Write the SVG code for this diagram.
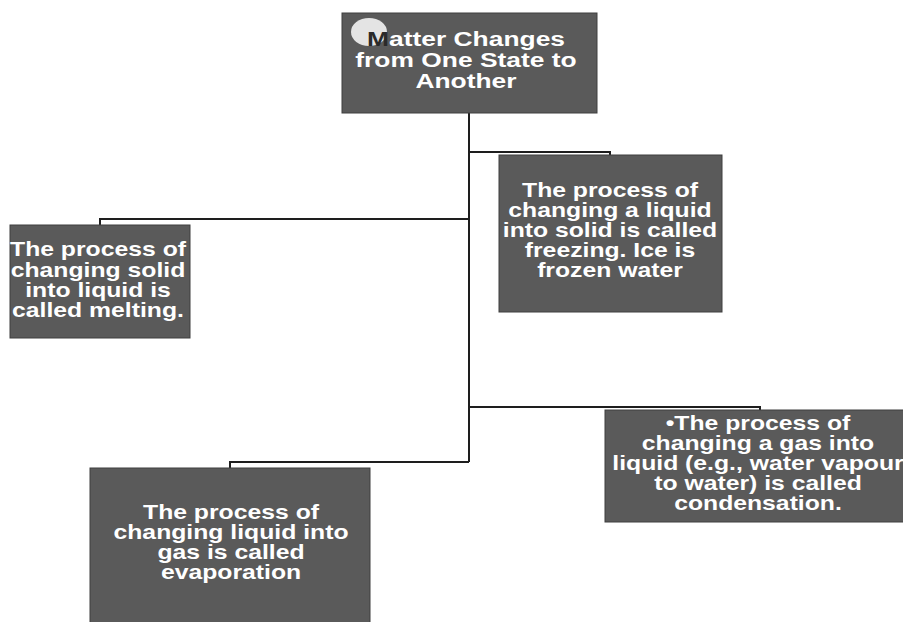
<svg xmlns="http://www.w3.org/2000/svg" width="903" height="622" viewBox="0 0 903 622">
<style>
.box{fill:#5a5a5a;stroke:#3e3e3e;stroke-width:1}
.lbl{font-family:"Liberation Sans",Arial,sans-serif;font-weight:bold;font-size:19.5px;fill:#ffffff;text-anchor:middle}
.ttl{font-size:20px}
.st{text-anchor:start}
.conn{fill:none;stroke:#1e1e1e;stroke-width:2}
</style>
<rect width="903" height="622" fill="#ffffff"/>
<g id="connectors">
<path class="conn" d="M469,113 V462"/>
<path class="conn" d="M469,152 H610 V155"/>
<path class="conn" d="M469,219 H100 V225"/>
<path class="conn" d="M469,407 H760 V410"/>
<path class="conn" d="M469,462 H230 V468"/>
</g>
<g id="title">
<rect class="box" x="342" y="13" width="255" height="100"/>
<ellipse cx="369" cy="32" rx="18" ry="14" fill="#e4e4e4"/>
<g transform="translate(466,0) scale(1.32,1)">
<text class="lbl ttl st" x="-75" y="46" fill="#2a2a2a" style="fill:#2a2a2a">M</text>
<text class="lbl ttl st" x="-58.3" y="46">atter Changes</text>
<text class="lbl ttl" x="0" y="67">from One State to</text>
<text class="lbl ttl" x="0" y="88">Another</text>
</g>
</g>
<g id="melting">
<rect class="box" x="10" y="225" width="180" height="113"/>
<g transform="translate(98,0) scale(1.27,1)">
<text class="lbl" x="0" y="256">The process of</text>
<text class="lbl" x="0" y="277">changing solid</text>
<text class="lbl" x="0" y="297">into liquid is</text>
<text class="lbl" x="0" y="317">called melting.</text>
</g>
</g>
<g id="freezing">
<rect class="box" x="499" y="155" width="223" height="157"/>
<g transform="translate(610,0) scale(1.27,1)">
<text class="lbl" x="0" y="197">The process of</text>
<text class="lbl" x="0" y="217">changing a liquid</text>
<text class="lbl" x="0" y="237">into solid is called</text>
<text class="lbl" x="0" y="257">freezing. Ice is</text>
<text class="lbl" x="0" y="277">frozen water</text>
</g>
</g>
<g id="condensation">
<rect class="box" x="605" y="410" width="310" height="112"/>
<g transform="translate(758,0) scale(1.27,1)">
<text class="lbl" x="0" y="430">•The process of</text>
<text class="lbl" x="0" y="450">changing a gas into</text>
<text class="lbl" x="0" y="470">liquid (e.g., water vapour</text>
<text class="lbl" x="0" y="490">to water) is called</text>
<text class="lbl" x="0" y="510">condensation.</text>
</g>
</g>
<g id="evaporation">
<rect class="box" x="90" y="468" width="280" height="160"/>
<g transform="translate(231,0) scale(1.27,1)">
<text class="lbl" x="0" y="519">The process of</text>
<text class="lbl" x="0" y="539">changing liquid into</text>
<text class="lbl" x="0" y="559">gas is called</text>
<text class="lbl" x="0" y="579">evaporation</text>
</g>
</g>
</svg>
